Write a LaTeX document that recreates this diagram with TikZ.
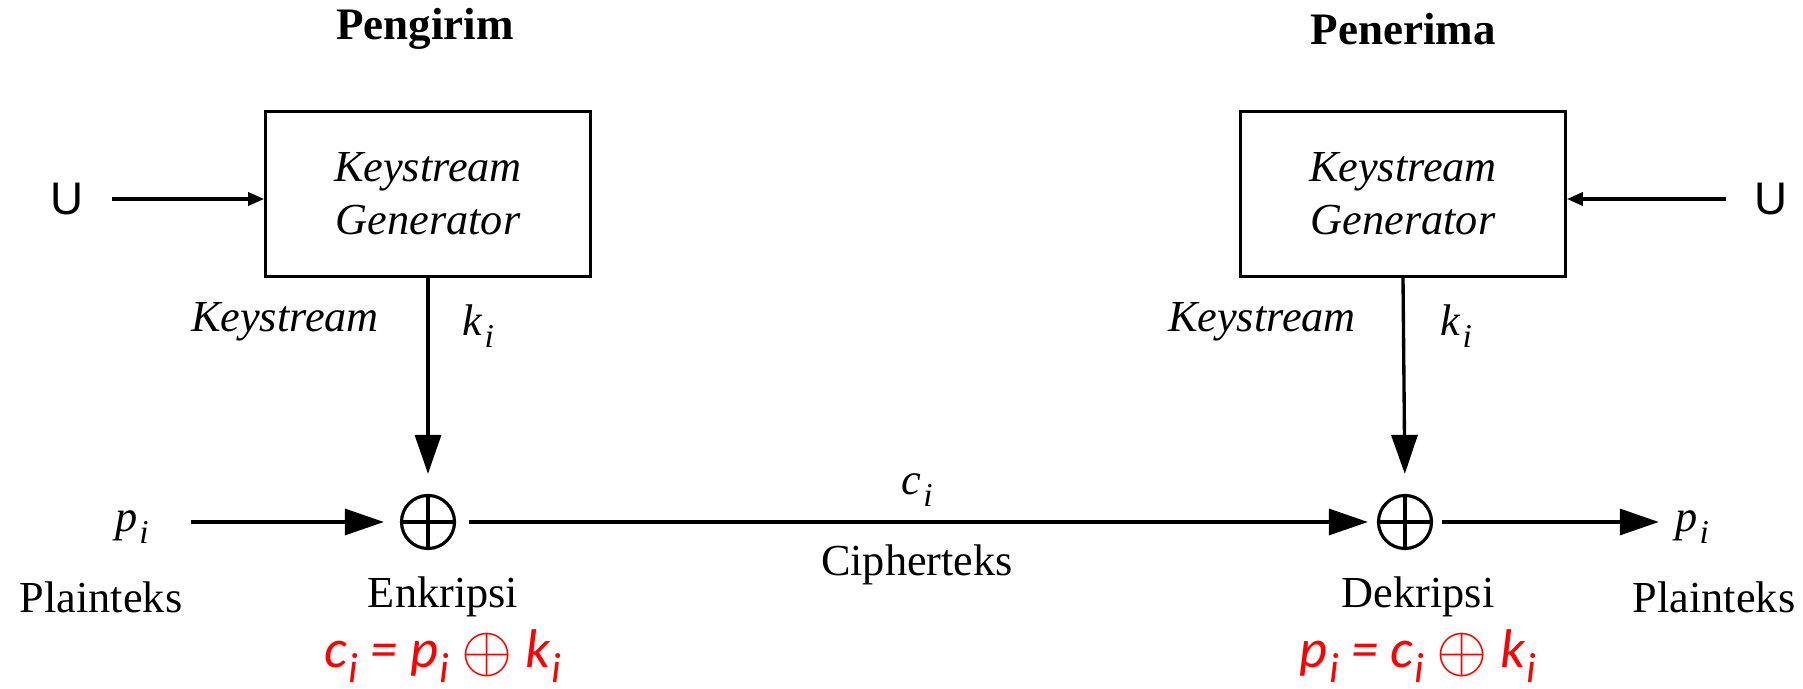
\documentclass[tikz,border=0pt]{standalone}
\usepackage{fontspec}
\setmainfont{Liberation Serif}[ItalicFont={Liberation Serif Italic}, BoldFont={Liberation Serif Bold}]
\setsansfont{Liberation Sans}
\newfontfamily\eqfont{Carlito}
\usepackage{graphicx}
\usepackage{tikz}
\usetikzlibrary{positioning,arrows.meta}
\definecolor{eqred}{RGB}{255,0,0}

\newcommand{\sbi}[1]{\textit{#1}\kern0.6pt\raisebox{-0.6ex}{\fontsize{9.5}{10}\selectfont\textit{i}}}
\newcommand{\eqsb}[1]{#1\kern0.4pt\raisebox{-0.55ex}{\fontsize{12}{12}\selectfont i}}
\newcommand{\eqxor}{\raisebox{-0.15ex}{\scalebox{1.3}{$\oplus$}}}

\begin{document}
\begin{tikzpicture}[x=0.01cm, y=-0.01cm,
    every node/.style={font=\fontsize{12.6}{15}\selectfont},
    title/.style={font=\fontsize{12.8}{15}\selectfont\bfseries},
    genbox/.style={draw, line width=0.7pt, minimum width=3.25cm, minimum height=1.65cm, align=center, font=\fontsize{12.6}{15}\selectfont\itshape},
    xorop/.style={circle, draw, line width=0.9pt, minimum size=0.53cm, inner sep=0pt,
      path picture={\draw[line width=0.9pt] (path picture bounding box.north) -- (path picture bounding box.south)
        (path picture bounding box.west) -- (path picture bounding box.east);}},
    bigarrow/.style={draw, line width=0.95pt, -{Triangle[length=3.9mm, width=2.6mm]}},
    smallarrow/.style={draw, line width=0.95pt, -{Triangle[length=1.6mm, width=1.3mm]}},
    ulabel/.style={font=\fontsize{13}{15}\selectfont\sffamily},
    eqlabel/.style={text=eqred, font=\fontsize{15.5}{18}\selectfont\eqfont\itshape}
  ]
\useasboundingbox (0,0) rectangle (1803,689);

\node[title] (sender) at (425,29) {Pengirim};
\node[title] (receiver) at (1403,29) {Penerima};

\node[genbox] (genL) at (428,194) {Keystream\\Generator};
\node[genbox] (genR) at (1403,194) {Keystream\\Generator};

\node[ulabel] (uL) at (67,199) {U};
\node[ulabel] (uR) at (1771,199) {U};

\node[font=\fontsize{12.6}{15}\selectfont\itshape] (ksL) at (285,322) {Keystream};
\node (kL) at (478,326) {\sbi{k}};
\node[font=\fontsize{12.6}{15}\selectfont\itshape] (ksR) at (1262,322) {Keystream};
\node (kR) at (1456,326) {\sbi{k}};

\node[xorop] (xorL) at (428,522) {};
\node[xorop] (xorR) at (1405,522) {};

\node (pL) at (132,527) {\sbi{p}};
\node (pR) at (1692,527) {\sbi{p}};
\node (cI) at (917,490) {\sbi{c}};
\node (cipher) at (917,565) {Cipherteks};

\node (plainL) at (101,597) {Plainteks};
\node (enc) at (443,597) {Enkripsi};
\node (dec) at (1418,597) {Dekripsi};
\node (plainR) at (1714,597) {Plainteks};

\node[eqlabel] (eqL) at (443,656) {\eqsb{c} = \eqsb{p} \eqxor\ \eqsb{k}};
\node[eqlabel] (eqR) at (1418,656) {\eqsb{p} = \eqsb{c} \eqxor\ \eqsb{k}};

\draw[smallarrow, shorten <=1.6mm] (uL) -- (uL -| genL.west);
\draw[smallarrow, shorten <=1.6mm] (uR) -- (uR -| genR.east);
\draw[bigarrow, shorten >=2mm] (genL.south) -- (xorL.north);
\draw[bigarrow, shorten >=2mm] (genR.south) -- (xorR.north);
\draw[bigarrow, shorten <=3mm, shorten >=1.6mm] (pL.east |- xorL) -- (xorL.west);
\draw[bigarrow, shorten <=1.3mm, shorten >=0.9mm] (xorL.east) -- (xorR.west);
\draw[bigarrow, shorten <=0.9mm, shorten >=0.4mm] (xorR.east) -- (pR.west |- xorR);

\end{tikzpicture}
\end{document}
